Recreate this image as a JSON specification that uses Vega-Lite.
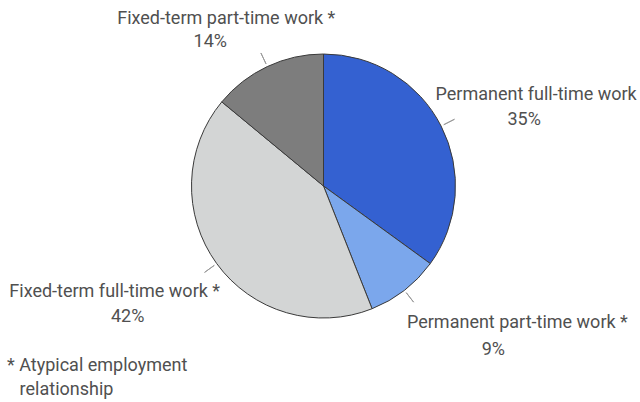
{
  "$schema": "https://vega.github.io/schema/vega-lite/v6.json",
  "width": 633,
  "height": 372,
  "autosize": "none",
  "padding": {"left": 7, "top": 0, "right": 0, "bottom": 30},
  "background": "white",
  "config": {
    "view": {"stroke": null},
    "font": "Roboto",
    "text": {"font": "Roboto", "fontSize": 18, "color": "#505050", "align": "center", "baseline": "middle"}
  },
  "title": {
    "text": ["* Atypical employment", "\u200b\u00a0\u00a0\u2009relationship"],
    "orient": "bottom",
    "anchor": "start",
    "frame": "group",
    "offset": -15,
    "font": "Roboto",
    "fontSize": 18,
    "fontWeight": "normal",
    "color": "#505050",
    "lineHeight": 24
  },
  "data": {
    "values": [
      {"k": 1, "cat": "Permanent full-time work", "share": 0.35, "mid": 0.175},
      {"k": 2, "cat": "Permanent part-time work *", "share": 0.09, "mid": 0.395},
      {"k": 3, "cat": "Fixed-term full-time work *", "share": 0.42, "mid": 0.65},
      {"k": 4, "cat": "Fixed-term part-time work *", "share": 0.14, "mid": 0.93}
    ]
  },
  "layer": [
    {
      "mark": {"type": "arc", "outerRadius": 132, "stroke": "#3a3a3a", "strokeWidth": 1},
      "encoding": {
        "theta": {"field": "share", "type": "quantitative", "stack": true},
        "order": {"field": "k", "type": "quantitative"},
        "color": {
          "field": "cat",
          "type": "nominal",
          "legend": null,
          "scale": {
            "domain": ["Permanent full-time work", "Permanent part-time work *", "Fixed-term full-time work *", "Fixed-term part-time work *"],
            "range": ["#3461D1", "#7BA7EC", "#D3D5D5", "#7D7D7D"]
          }
        }
      }
    },
    {
      "mark": {"type": "arc", "radius": 147, "radius2": 135, "filled": false, "stroke": "#9a9a9a", "strokeWidth": 1},
      "encoding": {
        "theta": {"field": "mid", "type": "quantitative", "stack": null},
        "theta2": {"field": "mid"}
      }
    },
    {
      "transform": [{"filter": "datum.k == 1"}],
      "mark": {"type": "text", "radius": 132, "dx": 95, "dy": -31},
      "encoding": {"theta": {"field": "mid", "type": "quantitative", "stack": null}, "text": {"field": "cat"}}
    },
    {
      "transform": [{"filter": "datum.k == 1"}],
      "mark": {"type": "text", "radius": 132, "dx": 83, "dy": -6},
      "encoding": {"theta": {"field": "mid", "type": "quantitative", "stack": null}, "text": {"field": "share", "type": "quantitative", "format": ".0%"}}
    },
    {
      "transform": [{"filter": "datum.k == 2"}],
      "mark": {"type": "text", "radius": 132, "dx": 113, "dy": 33},
      "encoding": {"theta": {"field": "mid", "type": "quantitative", "stack": null}, "text": {"field": "cat"}}
    },
    {
      "transform": [{"filter": "datum.k == 2"}],
      "mark": {"type": "text", "radius": 132, "dx": 89, "dy": 60},
      "encoding": {"theta": {"field": "mid", "type": "quantitative", "stack": null}, "text": {"field": "share", "type": "quantitative", "format": ".0%"}}
    },
    {
      "transform": [{"filter": "datum.k == 3"}],
      "mark": {"type": "text", "radius": 132, "dx": -102, "dy": 28},
      "encoding": {"theta": {"field": "mid", "type": "quantitative", "stack": null}, "text": {"field": "cat"}}
    },
    {
      "transform": [{"filter": "datum.k == 3"}],
      "mark": {"type": "text", "radius": 132, "dx": -89, "dy": 53},
      "encoding": {"theta": {"field": "mid", "type": "quantitative", "stack": null}, "text": {"field": "share", "type": "quantitative", "format": ".0%"}}
    },
    {
      "transform": [{"filter": "datum.k == 4"}],
      "mark": {"type": "text", "radius": 132, "dx": -41, "dy": -48},
      "encoding": {"theta": {"field": "mid", "type": "quantitative", "stack": null}, "text": {"field": "cat"}}
    },
    {
      "transform": [{"filter": "datum.k == 4"}],
      "mark": {"type": "text", "radius": 132, "dx": -57, "dy": -25},
      "encoding": {"theta": {"field": "mid", "type": "quantitative", "stack": null}, "text": {"field": "share", "type": "quantitative", "format": ".0%"}}
    }
  ]
}
